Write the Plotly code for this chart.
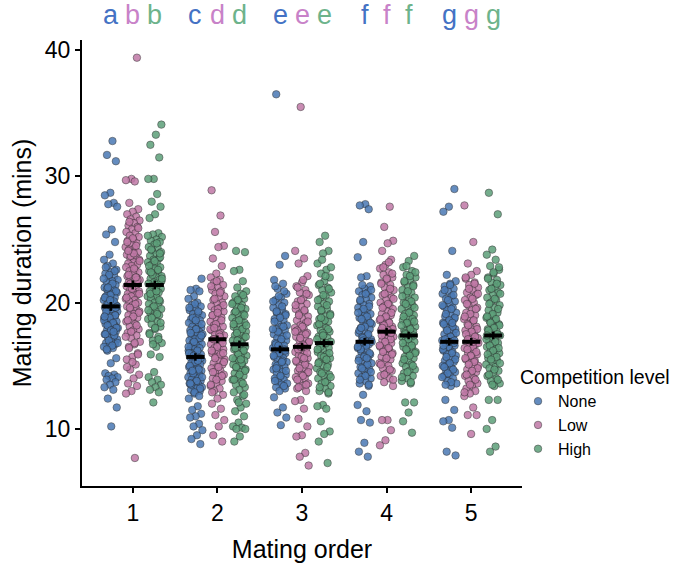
import plotly.graph_objects as go

orders = [1, 2, 3, 4, 5]
levels = ["None", "Low", "High"]
tick_labels = ["1", "2", "3", "4", "5"]
y_ticks = [10, 20, 30, 40]

g1_none = [32.8, 31.7, 31.2, 28.7, 28.5, 27.9, 27.8, 27.6, 25.8, 25.4, 24.8, 23.8, 23.4,
           23.1, 22.9, 22.6, 22.4, 22.3, 22.1, 22.0, 21.8, 21.7, 21.6, 21.4, 21.3, 21.2, 21.0,
           20.9, 20.8, 20.7, 20.5, 20.4, 20.3, 20.2, 20.0, 19.9, 19.8, 19.7, 19.6, 19.5, 19.4,
           19.3, 19.2, 19.1, 19.0, 18.9, 18.8, 18.7, 18.6, 18.5, 18.4, 18.3, 18.2, 18.1, 18.0,
           17.9, 17.8, 17.7, 17.6, 17.5, 17.3, 17.2, 17.1, 16.9, 16.8, 16.7, 16.6, 16.5, 16.4,
           16.2, 15.6, 15.2, 14.4, 14.3, 14.2, 14.1, 14.0, 13.9, 13.7, 13.5, 13.3, 13.1, 12.4,
           11.7, 10.2,
           22.8, 22.5, 22.2, 21.9, 21.5, 21.1, 20.9, 20.6, 20.4, 20.1, 19.9, 19.7, 19.5, 19.3,
           19.0, 18.8, 18.6, 18.4, 18.2, 18.0, 17.8, 17.5, 17.4, 17.0, 16.8, 16.6, 16.3, 19.6,
           20.2, 18.9, 17.7, 21.2]
g1_low = [39.4, 29.8, 29.7, 29.6, 27.9, 27.4, 27.2, 27.0, 26.8, 26.6, 26.5, 26.3, 26.1, 26.0,
          25.8, 25.6, 25.5, 25.3, 25.2, 25.0, 24.9, 24.7, 24.6, 24.4, 24.3, 24.2, 24.0, 23.9,
          23.8, 23.6, 23.5, 23.4, 23.2, 23.1, 23.0, 22.9, 22.8, 22.6, 22.5, 22.4, 22.3, 22.1,
          22.0, 21.9, 21.8, 21.7, 21.6, 21.5, 21.4, 21.3, 21.2, 21.0, 20.9, 20.8, 20.7, 20.6,
          20.5, 20.3, 20.2, 20.1, 20.0, 19.8, 19.7, 19.5, 19.4, 19.3, 19.1, 19.0, 18.8, 18.7,
          18.5, 18.3, 18.1, 17.9, 17.8, 17.6, 17.4, 17.2, 16.9, 16.7, 16.5, 16.0, 15.7, 15.5,
          15.1, 14.7, 14.3, 14.0, 13.6, 13.4, 13.0, 12.8, 7.7,
          26.4, 25.9, 25.1, 24.8, 24.5, 23.7, 23.3, 22.7, 22.2, 21.8, 21.1, 20.4, 19.9, 19.6,
          19.2, 18.9, 18.6, 18.2, 17.7, 17.3, 16.8, 16.4, 15.9, 15.3, 14.9, 22.0, 21.5, 20.7,
          23.9, 24.1]
g1_high = [34.1, 33.3, 32.5, 31.5, 29.8, 29.8, 28.6, 28.0, 27.6, 27.0, 26.7, 25.5, 25.4, 25.2,
           25.0, 24.9, 24.8, 24.6, 24.4, 24.3, 24.1, 24.0, 23.8, 23.7, 23.5, 23.4, 23.2, 23.1,
           23.0, 22.8, 22.7, 22.5, 22.4, 22.3, 22.1, 22.0, 21.9, 21.8, 21.6, 21.5, 21.4, 21.3,
           21.1, 21.0, 20.9, 20.8, 20.6, 20.5, 20.4, 20.3, 20.1, 20.0, 19.9, 19.8, 19.6, 19.5,
           19.3, 19.2, 19.0, 18.9, 18.7, 18.5, 18.3, 18.1, 17.9, 17.6, 17.3, 17.0, 16.8, 16.5,
           15.9, 15.7, 14.5, 14.1, 13.9, 13.7, 13.5, 13.3, 13.1, 12.9, 12.1,
           25.3, 24.7, 24.2, 23.6, 23.3, 22.9, 22.6, 22.2, 21.7, 21.2, 20.7, 20.2, 19.7, 19.4,
           19.1, 18.8, 18.4, 18.0, 17.5, 17.1, 16.7, 21.9, 20.9, 22.4, 23.9]
g2_none = [21.9, 21.1, 21.0, 20.9, 20.5, 20.3, 20.0, 19.8, 19.7, 19.5, 19.4, 19.2, 19.1, 19.0,
           18.9, 18.7, 18.6, 18.5, 18.4, 18.2, 18.1, 18.0, 17.9, 17.8, 17.7, 17.6, 17.5, 17.4,
           17.3, 17.2, 17.1, 17.0, 16.9, 16.8, 16.7, 16.6, 16.5, 16.4, 16.3, 16.2, 16.1, 16.0,
           15.9, 15.8, 15.7, 15.6, 15.5, 15.4, 15.3, 15.2, 15.1, 15.0, 14.9, 14.8, 14.7, 14.6,
           14.5, 14.4, 14.3, 14.2, 14.1, 14.0, 13.9, 13.8, 13.7, 13.6, 13.5, 13.4, 13.3, 13.2,
           13.1, 13.0, 12.8, 12.4, 11.8, 11.5, 11.2, 11.0, 10.9, 10.4, 10.2, 9.9, 9.5, 9.2, 8.8,
           19.9, 19.6, 19.3, 18.8, 18.3, 17.9, 17.6, 17.2, 16.9, 16.5, 16.2, 15.9, 15.6, 15.3,
           15.0, 14.7, 14.4, 14.1, 13.8, 13.5, 13.2, 12.9, 16.0, 15.4, 14.6, 17.4, 18.6, 13.6,
           12.6, 15.8]
g2_low = [28.9, 26.9, 25.6, 24.5, 24.4, 23.5, 22.9, 22.3, 22.0, 21.8, 21.6, 21.4, 21.2, 21.0,
          20.9, 20.7, 20.5, 20.4, 20.2, 20.0, 19.9, 19.7, 19.6, 19.4, 19.3, 19.1, 19.0, 18.8,
          18.7, 18.5, 18.4, 18.2, 18.1, 17.9, 17.8, 17.6, 17.5, 17.4, 17.2, 17.1, 17.0, 16.9,
          16.7, 16.6, 16.4, 16.3, 16.1, 16.0, 15.8, 15.7, 15.5, 15.4, 15.2, 15.1, 14.9, 14.8,
          14.6, 14.5, 14.3, 14.1, 14.0, 13.8, 13.6, 13.4, 13.2, 13.0, 12.7, 12.4, 12.0, 11.6,
          11.1, 10.7, 10.2, 9.5, 9.0,
          21.7, 21.3, 20.8, 20.3, 19.8, 19.5, 19.0, 18.6, 18.3, 17.9, 17.5, 17.1, 16.8, 16.5,
          16.2, 15.9, 15.6, 15.3, 14.9, 14.5, 14.2, 13.9, 13.5, 17.3, 18.0, 16.0, 19.2, 12.9]
g2_high = [24.1, 24.0, 22.6, 22.5, 21.7, 21.2, 20.9, 20.7, 20.5, 20.3, 20.1, 20.0, 19.8, 19.7,
           19.5, 19.4, 19.2, 19.1, 19.0, 18.8, 18.7, 18.5, 18.4, 18.2, 18.1, 17.9, 17.8, 17.7,
           17.5, 17.4, 17.2, 17.1, 17.0, 16.8, 16.7, 16.5, 16.4, 16.3, 16.1, 16.0, 15.8, 15.7,
           15.5, 15.4, 15.3, 15.1, 15.0, 14.8, 14.7, 14.5, 14.4, 14.2, 14.1, 13.9, 13.7, 13.5,
           13.3, 13.1, 12.9, 12.6, 12.3, 12.0, 11.7, 11.4, 11.0, 10.5, 10.2, 10.1, 10.0, 10.0,
           9.4, 9.0,
           20.6, 20.2, 19.9, 19.6, 19.3, 19.0, 18.6, 18.3, 17.9, 17.6, 17.3, 16.9, 16.6, 16.2,
           15.9, 15.6, 15.2, 14.9, 14.6, 14.3, 13.9, 13.6, 17.0, 18.2, 15.5, 16.4, 12.7, 12.1]
g3_none = [36.5, 23.7, 23.0, 21.8, 21.5, 21.1, 20.7, 20.4, 20.2, 20.0, 19.8, 19.6, 19.4, 19.2,
           19.1, 18.9, 18.7, 18.6, 18.4, 18.2, 18.1, 17.9, 17.8, 17.6, 17.5, 17.3, 17.2, 17.0,
           16.9, 16.8, 16.6, 16.5, 16.4, 16.2, 16.1, 16.0, 15.9, 15.7, 15.6, 15.5, 15.3, 15.2,
           15.1, 14.9, 14.8, 14.7, 14.5, 14.4, 14.3, 14.1, 14.0, 13.9, 13.7, 13.6, 13.5, 13.3,
           13.2, 13.0, 12.5, 11.7, 11.3, 10.9, 10.3,
           21.3, 20.9, 20.5, 20.1, 19.7, 19.3, 19.0, 18.8, 18.5, 18.1, 17.7, 17.4, 17.1, 16.7,
           16.3, 16.0, 15.8, 15.4, 15.0, 14.6, 14.2, 13.8, 13.4, 16.6, 17.9, 15.3, 14.8, 16.2]
g3_low = [35.5, 24.1, 23.5, 23.1, 22.1, 21.6, 21.3, 21.0, 20.8, 20.6, 20.3, 20.1, 19.9, 19.7,
          19.5, 19.3, 19.1, 18.9, 18.7, 18.6, 18.4, 18.2, 18.0, 17.9, 17.7, 17.6, 17.4, 17.3,
          17.1, 17.0, 16.8, 16.7, 16.5, 16.4, 16.2, 16.1, 15.9, 15.8, 15.6, 15.5, 15.3, 15.2,
          15.0, 14.9, 14.7, 14.6, 14.4, 14.3, 14.1, 14.0, 13.8, 13.6, 13.4, 13.2, 13.0, 12.3,
          12.2, 11.6, 10.8, 10.2, 9.5, 9.4, 8.1, 7.8, 7.1,
          21.8, 21.2, 20.7, 20.2, 19.8, 19.4, 19.0, 18.5, 18.1, 17.8, 17.5, 17.2, 16.9, 16.6,
          16.3, 16.0, 15.7, 15.4, 15.1, 14.8, 14.5, 14.2, 13.9, 13.5, 16.5, 17.7, 15.6, 13.3]
g3_high = [25.3, 24.8, 24.1, 23.9, 23.1, 22.6, 22.3, 22.0, 21.7, 21.4, 21.2, 21.0, 20.8, 20.5,
           20.3, 20.1, 19.9, 19.7, 19.5, 19.3, 19.1, 18.9, 18.7, 18.5, 18.4, 18.2, 18.0, 17.8,
           17.7, 17.5, 17.3, 17.2, 17.0, 16.9, 16.7, 16.5, 16.4, 16.2, 16.1, 15.9, 15.8, 15.6,
           15.4, 15.3, 15.1, 15.0, 14.8, 14.6, 14.5, 14.3, 14.2, 14.0, 13.8, 13.6, 13.4, 13.2,
           13.0, 12.8, 11.9, 11.8, 11.6, 10.6, 9.8, 9.6, 9.0, 7.3,
           23.4, 22.8, 22.1, 21.5, 21.1, 20.6, 20.2, 19.8, 19.4, 19.0, 18.6, 18.3, 17.9, 17.6,
           17.1, 16.8, 16.5, 16.0, 15.7, 15.2, 14.9, 14.4, 14.1, 13.7, 13.3, 12.9, 17.4, 16.3,
           15.5, 18.8]
g4_none = [27.8, 27.7, 27.4, 24.8, 23.6, 22.1, 22.0, 21.3, 21.1, 20.9, 20.8, 20.6, 20.4, 20.3,
           20.1, 19.9, 19.8, 19.6, 19.4, 19.3, 19.1, 19.0, 18.8, 18.6, 18.5, 18.3, 18.2, 18.0,
           17.9, 17.7, 17.6, 17.4, 17.3, 17.1, 17.0, 16.8, 16.7, 16.5, 16.4, 16.2, 16.1, 15.9,
           15.8, 15.6, 15.5, 15.3, 15.2, 15.0, 14.9, 14.7, 14.6, 14.4, 14.3, 14.1, 14.0, 13.8,
           13.6, 13.4, 12.7, 11.9, 11.4, 10.7, 10.5, 8.9, 8.2, 7.8,
           21.4, 21.0, 20.7, 20.2, 19.7, 19.5, 19.2, 18.9, 18.7, 18.4, 18.1, 17.8, 17.5, 17.2,
           16.9, 16.6, 16.3, 16.0, 15.7, 15.4, 15.1, 14.8, 14.5, 14.2, 13.9, 13.5, 17.0, 16.5,
           15.6, 18.0]
g4_low = [27.6, 26.0, 24.9, 24.7, 24.1, 23.4, 23.0, 22.7, 22.4, 22.2, 22.0, 21.8, 21.6, 21.4,
          21.2, 21.0, 20.8, 20.6, 20.4, 20.2, 20.0, 19.8, 19.7, 19.5, 19.3, 19.1, 19.0, 18.8,
          18.6, 18.5, 18.3, 18.1, 18.0, 17.8, 17.6, 17.5, 17.3, 17.2, 17.0, 16.8, 16.7, 16.5,
          16.3, 16.2, 16.0, 15.8, 15.7, 15.5, 15.3, 15.2, 15.0, 14.8, 14.6, 14.4, 14.2, 14.0,
          13.7, 13.4, 10.7, 10.7, 9.9, 9.1, 8.7,
          23.2, 22.8, 22.3, 21.9, 21.5, 21.1, 20.7, 20.3, 19.9, 19.6, 19.2, 18.9, 18.7, 18.4,
          18.2, 17.9, 17.7, 17.4, 17.1, 16.9, 16.6, 16.4, 16.1, 15.9, 15.6, 15.1, 14.7, 14.3,
          13.9, 17.8, 18.0, 17.6]
g4_high = [23.7, 23.3, 22.8, 22.5, 22.2, 22.0, 21.8, 21.6, 21.4, 21.2, 21.0, 20.8, 20.6, 20.4,
           20.2, 20.0, 19.8, 19.7, 19.5, 19.3, 19.1, 19.0, 18.8, 18.6, 18.5, 18.3, 18.1, 18.0,
           17.8, 17.7, 17.5, 17.3, 17.2, 17.0, 16.9, 16.7, 16.5, 16.4, 16.2, 16.1, 15.9, 15.7,
           15.6, 15.4, 15.2, 15.1, 14.9, 14.7, 14.6, 14.4, 14.2, 14.0, 13.8, 13.6, 12.1, 12.1,
           11.3, 10.6, 9.7,
           22.9, 22.4, 22.1, 21.7, 21.3, 20.9, 20.5, 20.1, 19.9, 19.6, 19.2, 18.9, 18.7, 18.4,
           18.2, 17.9, 17.6, 17.4, 17.1, 16.8, 16.6, 16.3, 16.0, 15.8, 15.5, 15.0, 14.5, 14.1,
           13.7, 17.5, 18.5]
g5_none = [29.0, 27.6, 27.2, 24.1, 22.2, 21.7, 21.5, 21.3, 21.1, 20.9, 20.7, 20.5, 20.3, 20.1,
           19.9, 19.7, 19.6, 19.4, 19.2, 19.0, 18.9, 18.7, 18.5, 18.4, 18.2, 18.0, 17.9, 17.7,
           17.5, 17.4, 17.2, 17.0, 16.9, 16.7, 16.6, 16.4, 16.2, 16.1, 15.9, 15.8, 15.6, 15.4,
           15.3, 15.1, 15.0, 14.8, 14.6, 14.5, 14.3, 14.2, 14.0, 13.8, 13.6, 13.4, 12.3, 11.5,
           10.7, 10.6, 10.1, 8.2, 7.9,
           21.4, 21.0, 20.6, 20.2, 19.8, 19.5, 19.1, 18.8, 18.6, 18.3, 18.1, 17.8, 17.6, 17.3,
           17.1, 16.8, 16.5, 16.3, 16.0, 15.7, 15.5, 15.2, 14.9, 14.7, 14.4, 14.1, 13.7, 13.5,
           17.0, 16.9, 16.6, 18.4]
g5_low = [27.7, 24.8, 23.1, 22.5, 22.2, 21.9, 21.6, 21.4, 21.2, 21.0, 20.8, 20.6, 20.4, 20.2,
          20.0, 19.8, 19.6, 19.4, 19.2, 19.0, 18.8, 18.7, 18.5, 18.3, 18.1, 17.9, 17.8, 17.6,
          17.4, 17.2, 17.1, 16.9, 16.7, 16.6, 16.4, 16.2, 16.0, 15.9, 15.7, 15.5, 15.4, 15.2,
          15.0, 14.9, 14.7, 14.5, 14.4, 14.2, 14.0, 13.8, 13.6, 13.4, 13.2, 13.0, 12.8, 12.6,
          11.7, 11.1, 11.1, 9.6,
          22.0, 21.5, 21.1, 20.7, 20.3, 19.9, 19.5, 19.1, 18.9, 18.6, 18.2, 17.9, 17.7, 17.5,
          17.3, 17.0, 16.8, 16.5, 16.3, 16.1, 15.8, 15.6, 15.3, 15.1, 14.8, 14.6, 14.3, 13.9,
          13.5, 12.9, 16.9, 17.1]
g5_high = [28.7, 27.0, 24.2, 23.8, 23.4, 22.9, 22.6, 22.3, 22.0, 21.8, 21.6, 21.4, 21.2, 21.0,
           20.8, 20.6, 20.4, 20.2, 20.0, 19.8, 19.6, 19.4, 19.2, 19.0, 18.8, 18.6, 18.5, 18.3,
           18.1, 17.9, 17.7, 17.6, 17.4, 17.2, 17.0, 16.8, 16.7, 16.5, 16.3, 16.1, 16.0, 15.8,
           15.6, 15.4, 15.3, 15.1, 14.9, 14.8, 14.6, 14.4, 14.2, 14.0, 13.8, 13.6, 13.4, 12.3,
           12.3, 10.7, 10.0, 8.6, 8.2,
           22.8, 22.4, 21.9, 21.5, 21.1, 20.7, 20.3, 19.9, 19.5, 19.1, 18.9, 18.7, 18.4, 18.2,
           18.0, 17.8, 17.5, 17.3, 17.1, 16.9, 16.6, 16.4, 16.2, 15.9, 15.7, 15.5, 15.2, 14.7,
           14.3, 13.9, 13.5, 17.4]

none_values = [g1_none, g2_none, g3_none, g4_none, g5_none]
low_values = [g1_low, g2_low, g3_low, g4_low, g5_low]
high_values = [g1_high, g2_high, g3_high, g4_high, g5_high]

mean_none = [19.7, 15.7, 16.3, 16.9, 16.9]
mean_low = [21.4, 17.1, 16.5, 17.7, 16.9]
mean_high = [21.4, 16.7, 16.8, 17.4, 17.4]
se_none = [0.35, 0.3, 0.3, 0.3, 0.3]
se_low = [0.35, 0.3, 0.3, 0.3, 0.3]
se_high = [0.35, 0.3, 0.3, 0.3, 0.3]

letters = [["a", "b", "b"], ["c", "d", "d"], ["e", "e", "e"], ["f", "f", "f"], ["g", "g", "g"]]

point_colors = ["#4A79B4", "#C078A6", "#5C9F79"]
letter_colors = ["#4472C4", "#C882C8", "#6DB38B"]
dodge = [-0.26, 0.0, 0.26]
jitter_w = 0.085
FONT = "Liberation Sans, Arial, sans-serif"

fig = go.Figure()
all_values = [none_values, low_values, high_values]
for k, lev in enumerate(levels):
    xs, ys = [], []
    for gi, o in enumerate(orders):
        vals = all_values[k][gi]
        for i, v in enumerate(vals):
            frac = ((i + 1) * 0.6180339887 + gi * 0.31 + k * 0.17) % 1.0
            xs.append(o + dodge[k] + (frac - 0.5) * 2 * jitter_w)
            ys.append(v)
    fig.add_trace(go.Scatter(
        x=xs, y=ys, mode="markers", name=lev,
        marker=dict(size=7.5, color=point_colors[k], opacity=0.85,
                    line=dict(color="rgba(40,40,40,0.8)", width=0.7)),
    ))

means = [mean_none, mean_low, mean_high]
ses = [se_none, se_low, se_high]
for k in range(3):
    fig.add_trace(go.Scatter(
        x=[o + dodge[k] for o in orders], y=means[k], mode="markers", showlegend=False,
        marker=dict(symbol="line-ew", size=13, color="black", line=dict(color="black", width=4)),
        error_y=dict(type="data", array=ses[k], color="black", thickness=2.5, width=0),
    ))

for gi, o in enumerate(orders):
    for k in range(3):
        fig.add_annotation(x=o + dodge[k], y=1.056, xref="x", yref="paper",
                           text=letters[gi][k], showarrow=False,
                           font=dict(size=27, color=letter_colors[k], family=FONT),
                           xanchor="center", yanchor="middle")

fig.update_layout(
    width=677, height=563,
    margin=dict(l=82, r=155, t=40, b=77, autoexpand=False),
    paper_bgcolor="white", plot_bgcolor="white",
    font=dict(family=FONT, color="black"),
    legend=dict(title=dict(text="Competition level", font=dict(size=19.5)),
                font=dict(size=16), x=0.991, xanchor="left", y=0.285, yanchor="top",
                tracegroupgap=0),
)
fig.update_xaxes(range=[0.4, 5.6], tickvals=orders, ticktext=tick_labels, automargin=False,
                 showline=True, linecolor="black", linewidth=2, ticks="outside",
                 ticklen=5, tickwidth=1.5, tickcolor="black", showgrid=False, zeroline=False,
                 tickfont=dict(size=23),
                 title=dict(text="Mating order", font=dict(size=25), standoff=16))
fig.update_yaxes(range=[5.48, 40.8], tickvals=y_ticks, automargin=False,
                 showline=True, linecolor="black", linewidth=2, ticks="outside",
                 ticklen=5, tickwidth=1.5, tickcolor="black", showgrid=False, zeroline=False,
                 tickfont=dict(size=23),
                 title=dict(text="Mating duration (mins)", font=dict(size=25), standoff=6))

fig.write_html("out.html", config={"displayModeBar": False},
               post_script="document.body.style.margin='0px';")
